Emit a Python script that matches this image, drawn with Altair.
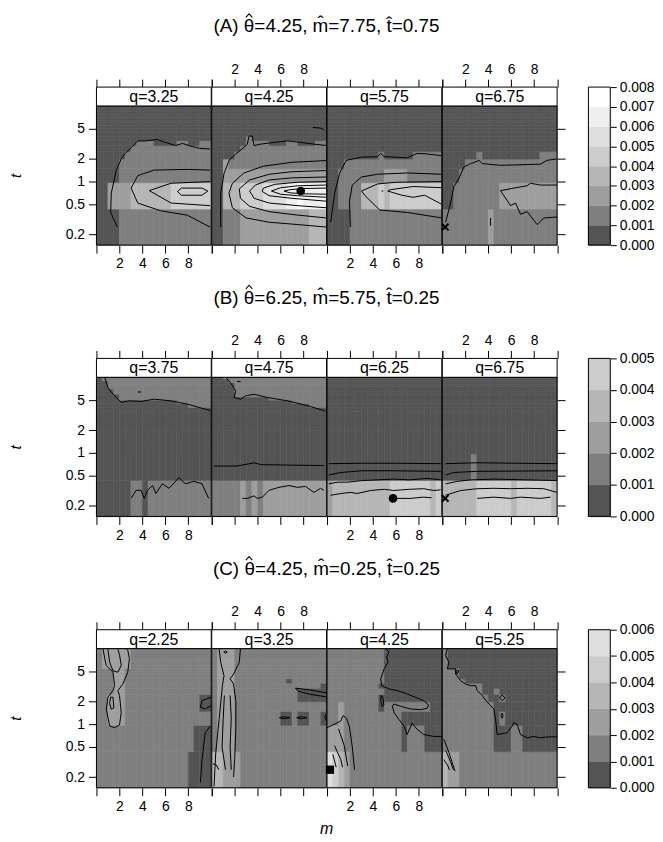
import altair as alt
import pandas as pd

FONT = "Liberation Sans"

# ---------------- data ----------------
M_CENTERS = [0.25, 0.75, 1.25, 1.75, 2.25, 2.75, 3.25, 3.75, 4.25, 4.75,
             5.25, 5.75, 6.25, 6.75, 7.25, 7.75, 8.25, 8.75, 9.25, 9.75]
T_CENTERS = [0.25, 0.75, 1.25, 1.75, 2.25, 2.75, 3.25, 3.75, 4.25, 4.75,
             5.25, 5.75, 6.25, 6.75, 7.25, 7.75, 8.25, 8.75, 9.25, 9.75]
X_TICKS = [0, 2, 4, 6, 8, 10]
Y_TICKS = [0.2, 0.5, 1, 2, 5]

# the hat over theta is drawn as a small chevron mark
ROW_TITLES = ["(A) \u03b8=4.25, m\u0302=7.75, t\u0302=0.75",
              "(B) \u03b8=6.25, m\u0302=5.75, t\u0302=0.25",
              "(C) \u03b8=4.25, m\u0302=0.25, t\u0302=0.25"]
Q_A = ["q=3.25", "q=4.25", "q=5.75", "q=6.75"]
Q_B = ["q=3.75", "q=4.75", "q=6.25", "q=6.75"]
Q_C = ["q=2.25", "q=3.25", "q=4.25", "q=5.25"]
CB_A = [0.000, 0.001, 0.002, 0.003, 0.004, 0.005, 0.006, 0.007, 0.008]
CB_B = [0.000, 0.001, 0.002, 0.003, 0.004, 0.005]
CB_C = [0.000, 0.001, 0.002, 0.003, 0.004, 0.005, 0.006]

Z = "00000000000000000000"
# level grids, rows listed from t=9.75 (top) down to t=0.25 (bottom), columns m=0.25..9.75
A1 = [Z]*13 + ["00000001110000110011", "00000011111111111111", "00000111111111111111",
               "00001111111111111111", "00001111111111111111", "00222233333334444444",
               "00001111111111111111"]
A2 = [Z]*12 + ["00000010000000000000", "00000011110001100011", "00000111111111111111",
               "00001111111111111111", "00211111111111111111", "00222222222222222222",
               "00333444455556676666", "00111222222222222333"]
A3 = [Z]*15 + ["00000000010000011111", "00011111111111111111", "00111111112222111111",
               "00111133343444444444", "00001111111111111111"]
A4 = [Z]*15 + ["00000010000000000111", "00001111111111111111", "00011111111111111111",
               "00111111112222222222", "11111111211111111111"]

B1 = ["01111111111111111111", "01111111111111111111", "00111111111111111111",
      "00111111111111111111", "00111111111111111111", "00111111111111111111",
      "00011111111111111111", "00011111111111111111", "00001111111111111111",
      "00001111111111111111", "00000000000000111111", "00000000000000001111"] + [Z]*7 + \
     ["00000011011111111111"]
B2 = ["00111111111111111111", "00011111111111111111", "00011111111111111111",
      "00001111111111111111", "00001111111111111111", "00001111111111111111",
      "00001111111111111111", "00001111111111111111", "00001111111111111111",
      "00000000001111111111", "00000000000000111111", "00000000000000000111"] + [Z]*7 + \
     ["11111212122222222222"]
B3 = [Z]*19 + ["23333333333444444434"]
B4 = [Z]*18 + ["00000100000000000000", "33333344444434444443"]

C1 = ["12222211111111111111"]*9 + ["11122111111111111111"]*6 + \
     ["11222111111111111100", "11222111111111111100", "11222111111111111111",
      "11111111111111111000", "11111111111111110000"]
C2 = ["12221111111111111111"]*12 + ["12221111111110111111", "12221111111111111110",
                                    "12221111111111100000", "12221111111111100000",
                                    "12221111111111111111", "12221111111100100110",
                                    "12221111111111111111", "33222111111111111111"]
C3 = ["11111111110000000000"]*13 + ["11111111100000000000", "11111111110000000000",
                                    "11111111100000000000", "11211111101111111100",
                                    "11211111111110000000", "22211111111110111000",
                                    "54321111111111111111"]
C4 = ["10000000000000000000"]*9 + ["11100000000000000000", "11100000000000000000",
                                   "11100000000000000000", "11110000000000000000",
                                   "11111110000000000000", "11111110010000000000",
                                   "11111111001000000000", "11111111100000000000",
                                   "11111111101000000000", "11111111100011000000",
                                   "32211111111111111111"]

# contour lines (m, t)
A1_L = [
    [(1.81, 0.25), (1.24, 0.39), (1.29, 0.7), (1.72, 1.4), (2.16, 2.0), (2.44, 2.3), (3.02, 2.8),
     (3.6, 3.45), (4.17, 3.45), (5.3, 3.6), (6.0, 3.3), (6.9, 3.0), (7.5, 3.2), (8.2, 2.95),
     (9.0, 2.75), (9.9, 2.7)],
    [(9.9, 1.42), (8.0, 1.45), (5.03, 1.42), (3.6, 1.2), (3.02, 0.82), (3.6, 0.52), (5.6, 0.41),
     (7.9, 0.36), (9.9, 0.25)],
    [(9.9, 1.0), (6.5, 0.95), (4.6, 0.76), (6.5, 0.52), (9.9, 0.48)],
    [(7.05, 0.74), (7.4, 0.82), (9.2, 0.82), (9.7, 0.75), (9.2, 0.66), (7.4, 0.66), (7.05, 0.74)],
]
A2_L = [
    [(0.78, 0.25), (0.78, 0.7), (1.07, 1.28), (1.51, 1.91), (2.09, 2.32), (2.81, 2.83), (3.1, 3.13),
     (3.25, 4.0), (3.54, 4.0), (3.68, 3.0), (4.26, 3.13), (5.42, 3.3), (6.58, 3.46), (7.74, 3.3),
     (8.9, 3.13), (10, 3.0)],
    [(10, 1.9), (7, 1.8), (4.5, 1.6), (2.8, 1.3), (1.8, 0.95), (1.5, 0.7), (1.8, 0.45), (3, 0.33),
     (5, 0.29), (7.5, 0.27), (10, 0.25)],
    [(10, 1.4), (7, 1.35), (5, 1.25), (3.3, 1.05), (2.4, 0.8), (2.5, 0.6), (3.3, 0.47), (5, 0.4),
     (7.5, 0.36), (10, 0.33)],
    [(10, 1.15), (7, 1.12), (5, 1.05), (3.8, 0.9), (3.3, 0.75), (3.7, 0.6), (5, 0.52), (7.5, 0.48),
     (10, 0.45)],
    [(10, 1.0), (7.5, 0.98), (5.5, 0.92), (4.5, 0.82), (4.4, 0.74), (5, 0.65), (7, 0.6), (10, 0.55)],
    [(10, 0.9), (7.5, 0.88), (6, 0.83), (5.2, 0.75), (6, 0.68), (7.5, 0.65), (10, 0.62)],
    [(10, 0.82), (8, 0.81), (6.8, 0.78), (6.3, 0.75), (6.8, 0.71), (8, 0.69), (10, 0.68)],
    [(8.8, 5.2), (9.5, 5.1), (9.8, 4.8)],
]
A3_L = [
    [(0.32, 0.29), (0.66, 0.7), (1.09, 1.28), (1.67, 1.91), (2.96, 2.1), (4.4, 2.14), (4.68, 2.36),
     (4.97, 2.14), (7.0, 2.06), (7.84, 2.36), (8.7, 2.32), (10, 2.2)],
    [(2.04, 0.25), (1.95, 0.55), (2.2, 0.9), (3.0, 1.15), (4.4, 1.25), (7, 1.3), (10, 1.25)],
    [(10, 1.0), (6, 0.98), (4.4, 0.93), (3.0, 0.75), (3.4, 0.63), (4.6, 0.42), (7, 0.39), (10, 0.33)],
    [(10, 0.83), (7.5, 0.86), (5.5, 0.78), (5.3, 0.75), (6.5, 0.66), (7.5, 0.62), (8.5, 0.66),
     (10, 0.5)],
    [(4.75, 0.75), (4.9, 0.75)],
]
A4_L = [
    [(0.29, 0.29), (0.72, 0.52), (1.01, 0.86), (1.45, 1.1), (1.88, 1.56), (2.46, 1.73), (2.9, 1.82),
     (3.19, 1.91), (3.48, 1.73), (5.07, 1.64), (7.39, 1.68), (8.55, 1.7), (9.13, 1.91), (10, 2.0)],
    [(10, 0.9), (8.55, 0.9), (7.68, 0.95), (7.39, 0.88), (6.23, 0.82), (5.07, 0.76), (5.94, 0.48),
     (6.38, 0.52), (6.81, 0.37), (7.39, 0.4), (8.26, 0.27), (8.84, 0.33), (10, 0.34)],
    [(4.2, 0.26), (4.2, 0.33)],
]
B1_L = [
    [(0.72, 10), (1.0, 7.3), (1.44, 6.0), (2.16, 4.66), (2.87, 4.89), (3.88, 4.8), (5.03, 5.14),
     (6.46, 4.89), (7.9, 4.43), (9.9, 3.63)],
    [(3.02, 0.25), (3.45, 0.32), (3.88, 0.32), (4.17, 0.25), (4.45, 0.32), (4.89, 0.37), (5.17, 0.29),
     (5.75, 0.39), (6.32, 0.34), (7.18, 0.47), (7.76, 0.39), (8.48, 0.42), (9.2, 0.39), (9.77, 0.25)],
    [(3.6, 6.4), (3.9, 6.4)],
]
B2_L = [
    [(1.22, 10), (1.65, 8.47), (2.09, 6.58), (1.94, 5.41), (2.52, 5.14), (2.96, 5.68), (3.68, 5.97),
     (4.84, 5.41), (6.58, 4.89), (8.32, 4.23), (9.9, 3.57)],
    [(0.2, 0.67), (2.2, 0.67), (3.7, 0.74), (4.26, 0.7), (6.58, 0.69), (9.77, 0.68)],
    [(2.67, 0.25), (3.1, 0.25), (3.68, 0.27), (3.97, 0.25), (4.41, 0.26), (4.99, 0.32), (5.86, 0.35),
     (6.72, 0.37), (7.45, 0.35), (8.17, 0.36), (8.9, 0.3), (9.48, 0.34), (9.77, 0.32)],
    [(2.2, 8.8), (2.5, 8.8)],
]
B3_L = [
    [(0.15, 0.72), (3, 0.73), (6, 0.73), (9.9, 0.72)],
    [(0.15, 0.51), (1.2, 0.55), (3, 0.58), (5.8, 0.58), (9.9, 0.57)],
    [(0.15, 0.39), (0.95, 0.41), (1.8, 0.41), (3, 0.43), (4.4, 0.44), (5.8, 0.45), (7.2, 0.44),
     (8.7, 0.46), (9.9, 0.44)],
    [(0.3, 0.275), (1.2, 0.29), (2.1, 0.3), (2.6, 0.29), (3.8, 0.318), (5, 0.33), (5.8, 0.318),
     (7.2, 0.33), (8.4, 0.336), (9.3, 0.318), (9.9, 0.325)],
    [(5.4, 0.25), (7.3, 0.25), (8.4, 0.26), (9.1, 0.255)],
]
B4_L = [
    [(0.29, 0.72), (3, 0.74), (10, 0.72)],
    [(0.29, 0.51), (1.0, 0.55), (3.0, 0.57), (10, 0.58)],
    [(0.29, 0.39), (1.3, 0.42), (2.46, 0.44), (4.5, 0.45), (7.4, 0.44), (10, 0.43)],
    [(0.29, 0.275), (1.59, 0.318), (3.04, 0.336), (4.49, 0.34), (5.94, 0.336), (7.39, 0.34),
     (8.84, 0.336), (10, 0.30)],
    [(3.04, 0.25), (4.49, 0.26), (5.94, 0.25), (6.81, 0.26), (8.55, 0.25), (9.42, 0.26)],
]
C1_L = [
    [(0.57, 10), (0.72, 7.39), (0.86, 5.98), (1.44, 4.88), (1.58, 3.24), (1.44, 2.78), (1.0, 2.28),
     (0.86, 1.58), (1.15, 0.95), (1.58, 0.9), (2.01, 0.98), (2.16, 1.43), (2.01, 2.39), (1.87, 2.78),
     (2.3, 3.4), (2.73, 4.88), (2.87, 7.39), (2.73, 9.5), (2.59, 10)],
    [(1.0, 9.8), (1.15, 6.6), (1.44, 5.1), (1.87, 4.88), (2.16, 6.0), (2.01, 8.3), (1.87, 9.8)],
    [(1.24, 2.28), (1.15, 1.9), (1.29, 1.58), (1.52, 1.65), (1.44, 2.28), (1.24, 2.28)],
    [(9.05, 0.17), (9.2, 0.34), (9.48, 0.77), (9.91, 0.95)],
    [(10, 2.28), (9.2, 2.05), (9.05, 1.67), (9.48, 1.6), (10, 1.76)],
]
C2_L = [
    [(0.2, 0.15), (0.35, 0.42), (0.64, 1.16), (0.93, 3.24), (1.07, 4.38), (0.78, 6.62), (0.64, 10)],
    [(2.5, 10), (2.4, 6.6), (1.9, 4.6), (1.6, 4.0), (1.9, 3.4), (2.1, 2.0), (2.1, 0.9), (2.0, 0.35),
     (1.9, 0.2)],
    [(1.1, 2.4), (1.0, 1.2), (0.9, 0.5), (1.2, 0.25)],
    [(1.6, 2.4), (1.7, 1.2), (1.6, 0.5), (1.7, 0.25)],
    [(1.2, 9.3), (1.35, 9.0), (1.2, 8.7), (1.05, 9.0), (1.2, 9.3)],
    [(0.1, 0.3), (0.4, 0.29), (0.6, 0.25)],
    [(5.9, 1.22), (6.3, 1.26), (6.8, 1.22), (6.3, 1.18), (5.9, 1.22)],
    [(7.4, 1.22), (7.8, 1.26), (8.3, 1.22), (7.8, 1.18), (7.4, 1.22)],
    [(7.3, 3.0), (8.5, 2.85), (10, 2.6), (10, 2.3), (8.5, 2.5), (7.5, 2.75), (7.3, 3.0)],
    [(10, 1.4), (9.85, 1.25), (10, 1.1)],
]
C3_L = [
    [(5.11, 10), (5.4, 9.03), (5.2, 7.73), (5.32, 6.63), (4.97, 5.41), (4.68, 3.98), (4.77, 3.24),
     (5.4, 2.93), (6.12, 2.79), (6.98, 2.52), (7.7, 2.27), (8.42, 2.05), (8.85, 1.8), (8.71, 1.62),
     (8.13, 1.56), (7.27, 1.59), (6.41, 1.73), (5.83, 1.85), (5.69, 1.76), (5.83, 1.43), (6.26, 1.16),
     (6.7, 0.95), (6.98, 0.73), (7.41, 1.03), (7.84, 0.86), (8.42, 0.73), (9.28, 0.69), (10, 0.69)],
    [(4.7, 2.4), (4.85, 2.3), (4.95, 1.8), (4.8, 1.7), (4.7, 2.0), (4.7, 2.4)],
    [(0, 0.9), (1.2, 1.1), (1.4, 1.3), (1.7, 1.2), (1.95, 0.92), (2.2, 0.5), (2.4, 0.25)],
    [(1.0, 0.87), (1.5, 0.52), (1.8, 0.28)],
    [(0.65, 0.52), (1.2, 0.34), (1.35, 0.27)],
    [(0.5, 0.4), (0.8, 0.27)],
]
C4_L = [
    [(0.43, 10), (0.29, 8.1), (0.58, 6.6), (0.43, 5.4), (1.16, 5.4), (1.16, 4.63), (1.59, 3.77),
     (2.03, 3.4), (2.46, 3.24), (2.9, 3.24), (3.04, 2.79), (3.48, 2.39), (3.91, 1.96), (4.49, 1.6),
     (4.64, 1.16), (4.78, 0.73), (5.65, 0.77), (6.09, 0.95), (6.23, 1.05), (6.52, 1.0), (6.81, 0.73),
     (7.39, 0.66), (7.97, 0.69), (8.55, 0.66), (9.13, 0.68), (10, 0.68)],
    [(1.15, 5.1), (1.45, 5.1), (1.3, 4.6), (1.15, 5.1)],
    [(5.22, 2.45), (5.45, 2.22), (5.22, 2.05), (4.99, 2.22), (5.22, 2.45)],
    [(5.2, 1.4), (5.3, 1.3), (5.2, 1.2), (5.1, 1.3), (5.2, 1.4)],
    [(0.14, 0.63), (0.58, 0.42), (0.96, 0.28), (1.1, 0.24)],
    [(0.29, 0.45), (0.72, 0.32), (0.96, 0.25)],
    [(0.14, 0.34), (0.49, 0.28), (0.61, 0.25)],
]

# markers: (m, t, kind)
A_PTS = [[], [(7.75, 0.75, "dot")], [], [(0.25, 0.25, "cross")]]
B_PTS = [[], [], [(5.75, 0.25, "dot")], [(0.25, 0.25, "cross")]]
C_PTS = [[], [], [(0.25, 0.25, "square")], []]

# ---------------- geometry / style ----------------
W, H, STRIP = 115.5, 140, 19
CBW = 22
TICK_FS = 14
TITLE_FS = 19
TITLE_DY = -80
# offset (in em) from the title centre to the centre of the theta glyph (Arial metrics)
THETA_EM = -4.101
HAT_PATH = "M-1,0.6L0,-0.5L1,0.6"

M_LO = [0.0] + [(a + b) / 2 for a, b in zip(M_CENTERS[:-1], M_CENTERS[1:])]
M_HI = M_LO[1:] + [10.0]
T_LO = [T_CENTERS[0] * (T_CENTERS[0] / T_CENTERS[1]) ** 0.5] + \
       [(a * b) ** 0.5 for a, b in zip(T_CENTERS[:-1], T_CENTERS[1:])]
T_HI = T_LO[1:] + [T_CENTERS[-1] * (T_CENTERS[-1] / T_CENTERS[-2]) ** 0.5]
TMIN, TMAX = T_LO[0], T_HI[-1]


def grays(n, start=0.33, gamma=2.2):
    a = start ** gamma
    out = []
    for i in range(n):
        v = round(255 * ((a + (1 - a) * i / (n - 1)) ** (1 / gamma)))
        out.append("#%02x%02x%02x" % (v, v, v))
    return out


def cells_df(grid):
    recs = []
    for r, s in enumerate(grid[::-1]):
        for c, ch in enumerate(s):
            recs.append(dict(m0=M_LO[c], m1=M_HI[c], t0=T_LO[r], t1=T_HI[r], level=int(ch)))
    return pd.DataFrame(recs)


def lines_df(lines):
    recs = []
    for j, ln in enumerate(lines):
        for i, (m, t) in enumerate(ln):
            recs.append(dict(id=j, i=i, m=m, t=t))
    return pd.DataFrame(recs)


XS = alt.Scale(domain=[0, 10], nice=False, zero=False)
YS = alt.Scale(type="log", domain=[TMIN, TMAX], nice=False)
XLAB = "datum.value > 0 && datum.value < 10 ? datum.label : ''"


def axis_common(**kw):
    base = dict(tickSize=8, tickColor="black", tickWidth=1, domain=False, grid=False,
                labelFont=FONT, labelFontSize=TICK_FS, labelColor="black", title=None)
    base.update(kw)
    return alt.Axis(**base)


def text_layer(label, x, y, size, style="normal"):
    df = pd.DataFrame({"label": [label]})
    return alt.Chart(df).mark_text(font=FONT, fontSize=size, fontStyle=style, baseline="middle",
                                   align="center", color="black").encode(
        x=alt.value(x), y=alt.value(y), text="label:N")


def panel(k, grid, lines, pts, q, ncol, title=None, xlabel=False):
    cs = alt.Scale(domain=list(range(ncol)), range=grays(ncol))
    first, last = k == 0, k == 3
    xb = axis_common(orient="bottom", values=X_TICKS, labels=(k in (0, 2)), labelExpr=XLAB,
                     labelPadding=4)
    xt = axis_common(orient="top", values=X_TICKS, labels=(k in (1, 3)), labelExpr=XLAB,
                     labelPadding=3, offset=STRIP)
    if first:
        yl = axis_common(orient="left", values=Y_TICKS, labelExpr="datum.value", labelPadding=4,
                         title="t", titleFontStyle="italic", titleFont=FONT, titleFontSize=15,
                         titleFontWeight="normal", titleColor="black", titlePadding=42)
    else:
        yl = None
    yr = axis_common(orient="right", values=Y_TICKS, labels=False) if last else None

    rect = alt.Chart(cells_df(grid)).mark_rect(strokeWidth=0.6).encode(
        x=alt.X("m0:Q", scale=XS, axis=xb), x2="m1:Q",
        y=alt.Y("t0:Q", scale=YS, axis=yl), y2="t1:Q",
        color=alt.Color("level:O", scale=cs, legend=None),
        stroke=alt.Stroke("level:O", scale=cs, legend=None),
    )
    line = alt.Chart(lines_df(lines)).mark_line(color="black", strokeWidth=1, clip=True).encode(
        x=alt.X("m:Q", scale=XS, axis=xt),
        y=alt.Y("t:Q", scale=YS, axis=yr),
        detail="id:N", order="i:Q",
    )
    layers = [rect, line]
    one = pd.DataFrame({"label": [q]})
    border = alt.Chart(one).mark_rect(fillOpacity=0, stroke="black", strokeWidth=1).encode(
        x=alt.value(0), x2=alt.value(W), y=alt.value(0), y2=alt.value(H))
    layers.append(border)
    for (m, t, kind) in pts:
        pdf = pd.DataFrame({"m": [m], "t": [t]})
        if kind == "dot":
            mk = alt.Chart(pdf).mark_point(filled=True, color="black", size=75, opacity=1)
        elif kind == "square":
            mk = alt.Chart(pdf).mark_point(shape="square", filled=True, color="black", size=70,
                                           opacity=1)
        else:
            mk = alt.Chart(pdf).mark_point(shape="M-1,-1L1,1M-1,1L1,-1", filled=False,
                                           color="black", strokeWidth=2, size=45, opacity=1)
        layers.append(mk.encode(x=alt.X("m:Q", scale=XS, axis=None),
                                y=alt.Y("t:Q", scale=YS, axis=None)))
    srect = alt.Chart(one).mark_rect(fill="white", stroke="black", strokeWidth=1).encode(
        x=alt.value(0), x2=alt.value(W), y=alt.value(-STRIP), y2=alt.value(0))
    layers += [srect, text_layer(q, W / 2, -STRIP / 2 + 0.5, 16)]
    if title is not None:
        layers.append(text_layer(title, W, TITLE_DY, TITLE_FS))
        hat = alt.Chart(one).mark_point(shape=HAT_PATH, filled=False, color="black",
                                        strokeWidth=1.1, size=42, opacity=1).encode(
            x=alt.value(W + THETA_EM * TITLE_FS), y=alt.value(TITLE_DY - 11))
        layers.append(hat)
    if xlabel:
        layers.append(text_layer("m", W, H + 42, 16, "italic"))
    return alt.layer(*layers).resolve_axis(x="independent", y="independent").properties(
        width=W, height=H)


def colorbar(ticks):
    n = len(ticks) - 1
    df = pd.DataFrame({"lo": ticks[:-1], "hi": ticks[1:], "level": list(range(n))})
    cs = alt.Scale(domain=list(range(n)), range=grays(n))
    ys = alt.Scale(domain=[ticks[0], ticks[-1]], range=[H, -STRIP], nice=False, zero=False)
    bars = alt.Chart(df).mark_rect(strokeWidth=0.6).encode(
        x=alt.value(0), x2=alt.value(CBW),
        y=alt.Y("lo:Q", scale=ys,
                axis=axis_common(orient="right", values=ticks, format=".3f", tickSize=6,
                                 labelPadding=3)),
        y2="hi:Q",
        color=alt.Color("level:O", scale=cs, legend=None),
        stroke=alt.Stroke("level:O", scale=cs, legend=None),
    )
    bdf = pd.DataFrame({"label": ["cb"]})
    border = alt.Chart(bdf).mark_rect(fillOpacity=0, stroke="black", strokeWidth=1).encode(
        x=alt.value(0), x2=alt.value(CBW), y=alt.value(-STRIP), y2=alt.value(H))
    return alt.layer(bars, border).properties(width=CBW, height=H)


def row(grids, lines, pts, qs, ticks, title, last_row=False):
    ncol = len(ticks) - 1
    panels = [panel(k, grids[k], lines[k], pts[k], qs[k], ncol,
                    title=title if k == 1 else None, xlabel=(last_row and k == 1))
              for k in range(4)]
    block = alt.hconcat(*panels, spacing=0, bounds="flush")
    return alt.hconcat(block, colorbar(ticks), spacing=21)


chart = alt.vconcat(
    row([A1, A2, A3, A4], [A1_L, A2_L, A3_L, A4_L], A_PTS, Q_A, CB_A, ROW_TITLES[0]),
    row([B1, B2, B3, B4], [B1_L, B2_L, B3_L, B4_L], B_PTS, Q_B, CB_B, ROW_TITLES[1]),
    row([C1, C2, C3, C4], [C1_L, C2_L, C3_L, C4_L], C_PTS, Q_C, CB_C, ROW_TITLES[2], last_row=True),
    spacing=10,
).properties(
    padding={"left": 0, "top": 0, "right": 0, "bottom": 0}
).configure_view(stroke=None).configure(background="white")

chart.save("out.html", embed_options={"renderer": "svg", "actions": False})
